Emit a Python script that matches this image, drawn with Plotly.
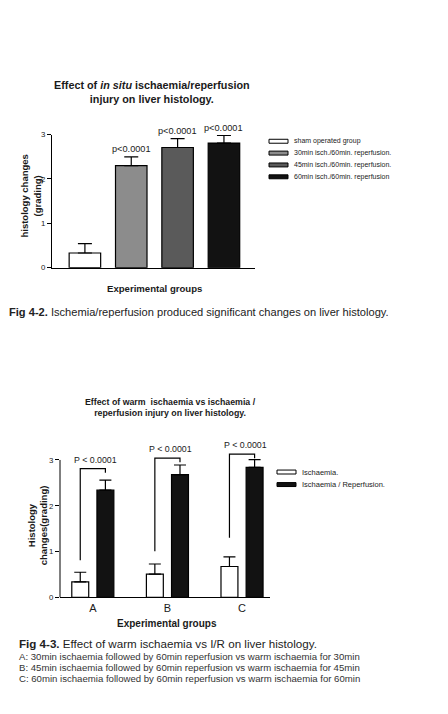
import plotly.graph_objects as go

W, H = 448, 714

# ---------------- Figure 4-2 data ----------------
groups1 = ["sham operated group", "30min isch./60min. reperfusion.",
           "45min isch./60min. reperfusion.", "60min isch./60min. reperfusion"]
means1 = [0.33, 2.30, 2.71, 2.81]
sem1 = [0.21, 0.20, 0.20, 0.17]
pvals1 = ["", "p<0.0001", "p<0.0001", "p<0.0001"]
colors1 = ["#ffffff", "#8c8c8c", "#5a5a5a", "#121212"]

# ---------------- Figure 4-3 data ----------------
cats2 = ["A", "B", "C"]
series2 = ["Ischaemia.", "Ischaemia / Reperfusion."]
isch_mean = [0.34, 0.51, 0.675]
isch_sem = [0.21, 0.22, 0.21]
ir_mean = [2.34, 2.68, 2.84]
ir_sem = [0.22, 0.21, 0.17]
bracket_low = [0.81, 1.01, 1.30]
bracket_top = [2.81, 3.04, 3.13]
bracket_right = [2.72, 2.95, 3.04]
pvals2 = ["P < 0.0001", "P < 0.0001", "P < 0.0001"]
colors2 = ["#ffffff", "#121212"]

caption1 = "<b>Fig 4-2.</b> Ischemia/reperfusion produced significant changes on liver histology."
caption2 = "<b>Fig 4-3.</b> Effect of warm ischaemia vs I/R on liver histology."
caption2_lines = [
    "A: 30min ischaemia followed by 60min reperfusion vs warm ischaemia for 30min",
    "B: 45min ischaemia followed by 60min reperfusion vs warm ischaemia for 45min",
    "C: 60min ischaemia followed by 60min reperfusion vs warm ischaemia for 60min",
]

FONT = "Liberation Sans, Arial, sans-serif"
INK = "#1a1a1a"


def px(x):
    return x / W


def py(y):
    return 1 - y / H


fig = go.Figure()

# ---- chart 1 bars ----
fig.add_trace(go.Bar(
    x=list(range(len(means1))), y=means1,
    width=0.68, offset=-0.34,
    marker=dict(color=colors1, line=dict(color="black", width=1.2)),
    error_y=dict(type="data", symmetric=False, array=sem1, arrayminus=[0] * len(sem1),
                 color="black", thickness=1.2, width=7),
    xaxis="x", yaxis="y", showlegend=False, cliponaxis=False,
))

# ---- chart 2 bars ----
SLOT = 0.337
BW = 0.227
for k, (mean, sem) in enumerate([(isch_mean, isch_sem), (ir_mean, ir_sem)]):
    center = -SLOT / 2 if k == 0 else SLOT / 2
    fig.add_trace(go.Bar(
        x=list(range(len(cats2))), y=mean,
        width=BW, offset=center - BW / 2,
        marker=dict(color=colors2[k], line=dict(color="black", width=1.2)),
        error_y=dict(type="data", symmetric=False, array=sem, arrayminus=[0] * len(sem),
                     color="black", thickness=1.2, width=6),
        xaxis="x2", yaxis="y2", showlegend=False, cliponaxis=False,
    ))

# brackets
for i in range(len(cats2)):
    xl = i - SLOT / 2
    xr = i + SLOT / 2
    fig.add_trace(go.Scatter(
        x=[xl, xl, xr, xr], y=[bracket_low[i], bracket_top[i], bracket_top[i], bracket_right[i]],
        mode="lines", line=dict(color="black", width=1.2),
        xaxis="x2", yaxis="y2", showlegend=False, hoverinfo="skip",
    ))

annotations = []
shapes = []


def note(x, y, text, size, color=INK, xanchor="center", yanchor="middle", **kw):
    d = dict(x=px(x), y=py(y), xref="paper", yref="paper", showarrow=False,
             xanchor=xanchor, yanchor=yanchor, text=text,
             font=dict(family=FONT, size=size, color=color))
    d.update(kw)
    annotations.append(d)


# titles
note(152, 89, "<b>Effect of <i>in situ</i> ischaemia/reperfusion<br>injury on liver histology.</b>",
     10.8, align="center")
note(170, 409, "<b>Effect of warm  ischaemia vs ischaemia /<br>reperfusion injury on liver histology.</b>",
     8.8, align="center")

# p labels chart 1
for i, p in enumerate(pvals1):
    if p:
        annotations.append(dict(
            x=i, y=means1[i] + sem1[i], xref="x", yref="y", showarrow=False,
            xanchor="center", yanchor="bottom", yshift=1, text=p,
            font=dict(family=FONT, size=9.2, color=INK)))

# p labels chart 2
for i, p in enumerate(pvals2):
    annotations.append(dict(
        x=i + 0.04, y=bracket_top[i], xref="x2", yref="y2", showarrow=False,
        xanchor="center", yanchor="bottom", yshift=2, text=p,
        font=dict(family=FONT, size=8.8, color=INK)))

# axis titles
note(31, 195, "<b>histology changes<br>(grading)</b>", 9.5, textangle=-90)
note(154, 288, "<b>Experimental groups</b>", 9.6)
note(37, 528, "<b>Histology<br>changes(grading)</b>", 9.5, textangle=-90)
note(167, 627, "<b>Experimental groups</b>", 10)


# custom legends (wide thin swatches)
def add_legend(labels, colors, x0, y0, dy, sw=19, sh=4, size=7.0):
    for j, (lab, col) in enumerate(zip(labels, colors)):
        yc = y0 + j * dy
        shapes.append(dict(type="rect", xref="paper", yref="paper",
                           x0=px(x0), x1=px(x0 + sw), y0=py(yc - sh / 2), y1=py(yc + sh / 2),
                           fillcolor=col, line=dict(color="black", width=1)))
        note(x0 + sw + 4, yc, lab, size, xanchor="left")


add_legend(groups1, colors1, 269, 139, 12, size=7.0)
add_legend(series2, colors2, 277, 474, 12.7, size=7.5)

# y axis line for chart 2 (only up to 3)
shapes.append(dict(type="line", xref="x2 domain", yref="y2", x0=0, x1=0, y0=0, y1=3,
                   line=dict(color="black", width=1)))

# captions
note(7, 312, caption1, 11.1, color="#222", xanchor="left")
note(17, 648, caption2, 11.6, color="#222", xanchor="left")
for j, line in enumerate(caption2_lines):
    note(17, 660.7 + j * 11.2, line, 9.6, color="#333", xanchor="left")

tickfont = dict(family=FONT, size=7.8, color=INK)

fig.update_layout(
    width=W, height=H,
    margin=dict(l=0, r=0, t=0, b=0),
    paper_bgcolor="white", plot_bgcolor="white",
    barmode="overlay",
    showlegend=False,
    font=dict(family=FONT, color=INK),
    xaxis=dict(domain=[px(52), px(255)], range=[-0.71, 3.67], showgrid=False, zeroline=False,
               showline=True, linecolor="black", linewidth=1, showticklabels=False, ticks="",
               anchor="y"),
    yaxis=dict(domain=[py(267), py(132.3)], range=[0, 3], showgrid=False, zeroline=False,
               showline=True, linecolor="black", linewidth=1, ticks="outside", ticklen=4,
               tickwidth=1, tickcolor="black", tickvals=[0, 1, 2, 3], tickfont=tickfont,
               anchor="x"),
    xaxis2=dict(domain=[px(60), px(270)], range=[-0.44, 2.375], showgrid=False, zeroline=False,
                showline=True, linecolor="black", linewidth=1, ticks="",
                tickvals=list(range(len(cats2))), ticktext=cats2,
                tickfont=dict(family=FONT, size=11, color=INK), anchor="y2"),
    yaxis2=dict(domain=[py(601), py(450.2)], range=[0, 3.25], showgrid=False, zeroline=False,
                showline=False, ticks="outside", ticklen=4, tickwidth=1, tickcolor="black",
                tickvals=[0, 1, 2, 3], tickfont=tickfont, anchor="x2"),
    annotations=annotations,
    shapes=shapes,
)

fig.write_html("out.html")
